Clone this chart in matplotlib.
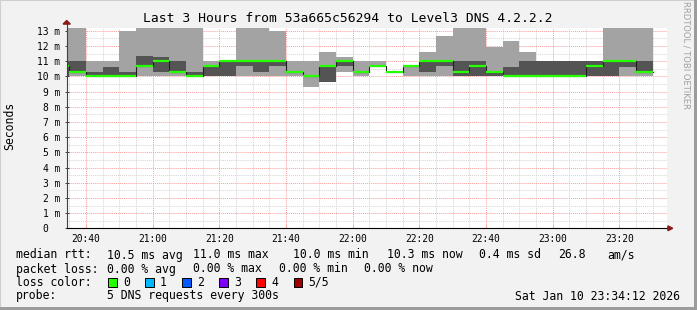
import matplotlib
matplotlib.use("Agg")
import matplotlib.pyplot as plt
import matplotlib.dates as mdates
import pandas as pd
from matplotlib.patches import Rectangle, Polygon
from matplotlib.ticker import MultipleLocator, FuncFormatter

# 5-minute bins starting 20:30 (first one is clipped by the time window)
bin_start = "2026-01-10 20:30"
window = ("2026-01-10 20:34:12", "2026-01-10 23:34:12")

# sorted pings per bin, in ms: min, 2nd, median, 4th, max
ping_min = [10.0, 10.0, 10.0, 10.0, 10.0, 10.0, 10.0, 10.0, 10.0, 10.0, 10.0, 10.0,
            10.0, 10.0, 10.0, 9.3, 9.65, 10.3, 10.0, 10.65, 10.3, 10.0, 10.0, 10.0,
            10.0, 10.0, 10.0, 10.0, 10.0, 10.0, 10.0, 10.0, 10.0, 10.0, 10.0, 10.0]
ping_p2 = [10.0, 10.3, 10.0, 10.0, 10.0, 10.65, 10.3, 10.3, 10.0, 10.0, 10.0, 10.65,
           10.3, 10.65, 10.3, 10.0, 9.65, 10.65, 10.3, 10.65, 10.3, 10.65, 10.3, 10.65,
           10.0, 10.0, 10.0, 10.0, 10.0, 10.0, 10.0, 10.0, 10.0, 10.0, 10.6, 10.3]
median = [10.65, 10.3, 10.0, 10.0, 10.0, 10.65, 11.0, 10.3, 10.0, 10.65, 11.0, 11.0,
          11.0, 11.0, 10.3, 10.0, 10.65, 11.0, 10.3, 10.65, 10.3, 10.65, 11.0, 11.0,
          10.3, 10.65, 10.3, 10.0, 10.0, 10.0, 10.0, 10.0, 10.65, 11.0, 11.0, 10.3]
ping_p4 = [11.0, 11.0, 10.3, 10.63, 10.3, 11.33, 11.27, 11.0, 10.3, 10.65, 11.0, 11.0,
           11.0, 11.0, 10.3, 10.0, 10.65, 11.0, 10.3, 10.65, 10.3, 10.65, 11.0, 11.0,
           11.0, 11.0, 10.3, 10.6, 11.0, 11.0, 11.0, 11.0, 11.0, 11.0, 11.0, 11.0]
ping_max = [13.4, 13.4, 11.0, 11.0, 13.0, 13.4, 13.4, 13.4, 13.4, 11.0, 11.0, 13.4,
            13.4, 13.0, 11.0, 11.0, 11.6, 11.27, 11.0, 11.0, 10.3, 10.65, 11.6, 12.65,
            13.4, 13.4, 11.93, 12.3, 11.6, 11.0, 11.0, 11.0, 11.0, 13.4, 13.4, 13.4]

title = "Last 3 Hours from 53a665c56294 to Level3 DNS 4.2.2.2"
loss_labels = ["0", "1", "2", "3", "4", "5/5"]
loss_colors = ["#26ff00", "#00b8ff", "#0059ff", "#7e00ff", "#ff0000", "#a10000"]

BG = "#f2f2f2"
MONO = "DejaVu Sans Mono"

t = pd.date_range(bin_start, periods=len(median) + 1, freq="5min")
x = mdates.date2num(t.to_pydatetime())


def ext(v):
    return list(v) + [v[-1]]


fig = plt.figure(figsize=(6.97, 3.10), dpi=100, facecolor=BG)
ax = fig.add_axes([66.7 / 697, 81.7 / 310, 600 / 697, 200.6 / 310])
ax.set_facecolor("white")

ax.fill_between(x, ext(ping_min), ext(ping_max), step="post", color="#a3a3a3", lw=0, zorder=2)
ax.fill_between(x, ext(ping_p2), ext(ping_p4), step="post", color="#545454", lw=0, zorder=3)
ax.step(x, ext(median), where="post", color="#202020", lw=0.8, zorder=4)
ax.hlines(median, x[:-1], x[1:], color="#26ff00", lw=1.6, zorder=5)

xl = mdates.date2num(pd.to_datetime(list(window)).to_pydatetime())
ax.set_xlim(xl[0], xl[1])
ax.set_ylim(0, 13.2)

ax.xaxis.set_major_locator(mdates.MinuteLocator(byminute=[0, 20, 40]))
ax.xaxis.set_minor_locator(mdates.MinuteLocator(byminute=range(0, 60, 5)))
ax.xaxis.set_major_formatter(mdates.DateFormatter("%H:%M"))
ax.yaxis.set_major_locator(MultipleLocator(1))
ax.yaxis.set_minor_locator(MultipleLocator(0.5))
ax.yaxis.set_major_formatter(FuncFormatter(lambda v, p: "0  " if v == 0 else f"{v:.0f} m"))

ax.grid(which="minor", color="#d4d4d4", lw=0.7, ls=(0, (1, 1)), zorder=1)
ax.grid(which="major", color="#ff9c9c", lw=0.7, ls=(0, (1, 1)), zorder=1)
ax.set_axisbelow(True)
for s in ax.spines.values():
    s.set_visible(False)

ax.tick_params(axis="both", which="major", labelsize=6.9, colors="#404040",
               labelcolor="black", length=2.5, width=0.7)
ax.tick_params(axis="y", which="major", direction="inout", pad=3.5)
ax.tick_params(axis="x", which="major", direction="in", pad=4, colors="#ff9c9c",
               labelcolor="black")
ax.tick_params(which="minor", length=0)
for lab in ax.get_xticklabels() + ax.get_yticklabels():
    lab.set_family(MONO)

# axis lines with arrows
ax.plot([0, 0], [0, 1.02], color="#404040", lw=0.8, transform=ax.transAxes, clip_on=False, zorder=6)
ax.plot([0, 1.006], [0, 0], color="black", lw=0.8, transform=ax.transAxes, clip_on=False, zorder=6)
ax.add_patch(Polygon([(-0.006, 1.018), (0.006, 1.018), (0, 1.036)], closed=True,
                     color="#8b1a1a", transform=ax.transAxes, clip_on=False, zorder=7))
ax.add_patch(Polygon([(1.002, -0.012), (1.002, 0.012), (1.010, 0)], closed=True,
                     color="#8b1a1a", transform=ax.transAxes, clip_on=False, zorder=7))


def ftxt(px, py, s, **kw):
    kw.setdefault("family", MONO)
    kw.setdefault("fontsize", 8.3)
    kw.setdefault("va", "center")
    fig.text(px / 697, 1 - py / 310, s, **kw)


ftxt(348, 18, title, fontsize=9.4, ha="center")
ftxt(10, 126, "Seconds", rotation=90, ha="center")
ftxt(686, 55, "RRDTOOL / TOBI OETIKER", rotation=270, ha="center",
     fontsize=6.0, color="#a0a0a0", family="DejaVu Sans")

row1 = [(16, "median rtt:"), (107, "10.5 ms avg"), (193, "11.0 ms max"), (293, "10.0 ms min"),
        (387, "10.3 ms now"), (479, "0.4 ms sd"), (558, "26.8"), (607, "am/s")]
row2 = [(16, "packet loss:"), (107, "0.00 % avg"), (193, "0.00 % max"), (279, "0.00 % min"),
        (364, "0.00 % now")]
for px, s in row1:
    ftxt(px, 255, s)
for px, s in row2:
    ftxt(px, 269, s)

ftxt(16, 282, "loss color:")
for i, (lab, col) in enumerate(zip(loss_labels, loss_colors)):
    bx = 108 + i * 37.1
    fig.patches.append(Rectangle((bx / 697, 1 - 287 / 310), 8.5 / 697, 9 / 310,
                                 transform=fig.transFigure, facecolor=col,
                                 edgecolor="black", lw=0.7))
    ftxt(bx + 15, 282, lab)

ftxt(16, 296, "probe:")
ftxt(107, 296, "5 DNS requests every 300s")
ftxt(680, 296, "Sat Jan 10 23:34:12 2026", ha="right")

# outer frame
fig.patches.append(Rectangle((0, 0), 1, 1, transform=fig.transFigure, fill=False,
                             edgecolor="#cfcfcf", lw=1.5))
fig.patches.append(Rectangle((694 / 697, 0), 3 / 697, 1, transform=fig.transFigure,
                             facecolor="#9c9c9c", lw=0))
fig.patches.append(Rectangle((0, 0), 1, 3 / 310, transform=fig.transFigure,
                             facecolor="#9c9c9c", lw=0))

fig.savefig("out.png", dpi=100, facecolor=BG)
